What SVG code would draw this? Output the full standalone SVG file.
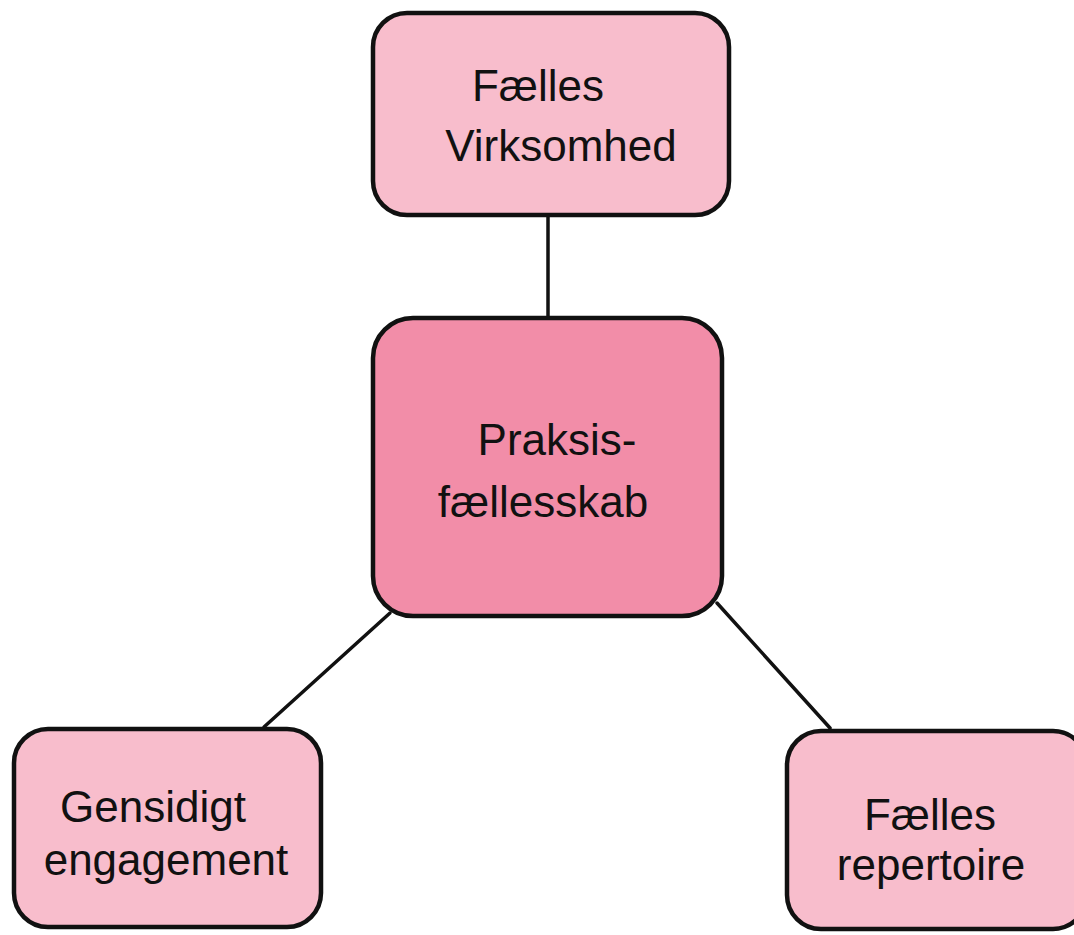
<svg xmlns="http://www.w3.org/2000/svg" width="1074" height="935" viewBox="0 0 1074 935">
<style>
.box{stroke:#111;stroke-width:4.5;stroke-linejoin:round}
.light{fill:#F8BDCC}
.dark{fill:#F28DA8}
.conn{stroke:#111;stroke-width:3.5;fill:none;stroke-linecap:round}
text{font-family:"Liberation Sans","DejaVu Sans",sans-serif;font-size:44px;fill:#111;text-anchor:middle}
</style>
<rect width="1074" height="935" fill="#fff"/>
<g id="connectors">
<line class="conn" x1="548" y1="216" x2="548" y2="317"/>
<line class="conn" x1="390" y1="613" x2="264" y2="727"/>
<line class="conn" x1="717" y1="603" x2="830" y2="728"/>
</g>
<g id="node-virksomhed">
<rect class="box light" x="373" y="13" width="356" height="202" rx="34"/>
<text x="538" y="101">Fælles</text>
<text x="561" y="161">Virksomhed</text>
</g>
<g id="node-praksis">
<rect class="box dark" x="373" y="318" width="349" height="298" rx="40"/>
<text x="557" y="455">Praksis-</text>
<text x="543" y="517">fællesskab</text>
</g>
<g id="node-gensidigt">
<rect class="box light" x="14" y="729" width="307" height="198" rx="34"/>
<text x="153" y="822">Gensidigt</text>
<text x="166" y="875">engagement</text>
</g>
<g id="node-repertoire">
<rect class="box light" x="787" y="731" width="300" height="198" rx="34"/>
<text x="930" y="830">Fælles</text>
<text x="931" y="880">repertoire</text>
</g>
</svg>
